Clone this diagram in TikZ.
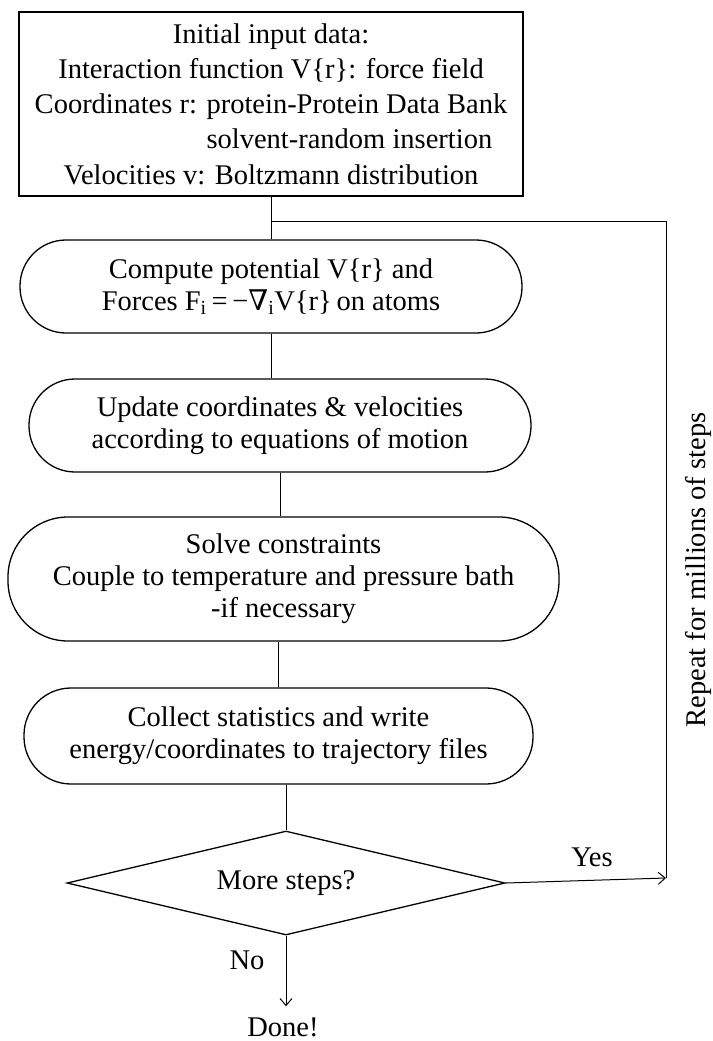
\documentclass[tikz,border=0pt]{standalone}
\usepackage{fontspec}
\setmainfont{Liberation Serif}
\newfontfamily\djs{DejaVu Serif}
\usepackage{calc}
\usetikzlibrary{shapes.geometric,arrows.meta,calc}
\begin{document}
\begin{tikzpicture}[x=1pt,y=1pt,
  box/.style={draw,line width=1.3pt,align=center,inner sep=0pt,font=\fontsize{28.5}{32}\selectfont},
  conn/.style={line width=1pt},
  arr/.style={conn,-{Straight Barb[length=7pt,width=12pt,line width=1pt]}},
  lbl/.style={inner sep=0pt,font=\fontsize{28.5}{32}\selectfont}]
\useasboundingbox (0,0) rectangle (712,-1041);

\node[box,minimum width=504pt,minimum height=184pt,font=\fontsize{28.5}{35.3}\selectfont] (top) at (271,-104)
 {Initial input data:\\
  Interaction function V\{r\}: force field\\
  Coordinates r: protein-Protein Data Bank\\
  \makebox[\widthof{Coordinates r: protein-Protein Data Bank}][l]{\phantom{Coordinates r: }solvent-random insertion}\\
  Velocities v: Boltzmann distribution};

\node[box,rounded corners=46pt,minimum width=502pt,minimum height=93pt] (comp) at (271,-286.5)
 {Compute potential V\{r\} and\\
  Forces F\textsubscript{i}\,=\,−{\djs∇}\textsubscript{i}V\{r\}\,on atoms};

\node[box,rounded corners=46pt,minimum width=502pt,minimum height=93pt] (upd) at (280,-425.5)
 {Update coordinates \& velocities\\
  according to equations of motion};

\node[box,rounded corners=60pt,minimum width=551pt,minimum height=124pt] (solve) at (283.5,-579)
 {Solve constraints\\
  Couple to temperature and pressure bath\\
  -if necessary};

\node[box,rounded corners=47pt,minimum width=509pt,minimum height=96pt] (coll) at (278.5,-736)
 {Collect statistics and write\\
  energy/coordinates to trajectory files};

\node[box,shape=diamond,shape aspect=4.2,minimum width=438pt,minimum height=104pt] (dia) at (286,-883)
 {More steps?};

\node[lbl] (done) at (283,-1027) {Done!};
\node[lbl] (yes) at (592,-857) {Yes};
\node[lbl] (no) at (247,-960) {No};
\node[lbl,rotate=90] (rep) at (698,-570) {Repeat for millions of steps};

\coordinate (tA) at ($(top.south)!0.5!(comp.north)$);
\coordinate (fbA) at (666,-221);
\coordinate (fbB) at (666,-878);

\draw[conn] (top.south) -- (comp.north);
\draw[conn] (comp.south) -- (comp.south |- upd.north);
\draw[conn] (upd.south) -- (upd.south |- solve.north);
\draw[conn] (coll.north |- solve.south) -- (coll.north);
\draw[conn] (dia.north |- coll.south) -- (dia.north);
\draw[conn] (tA |- fbA) -- (fbA) -- (fbB);
\draw[arr] (dia.east) -- (fbB);
\draw[arr,shorten >=11pt] (dia.south) -- (dia.south |- done.north);
\end{tikzpicture}
\end{document}
